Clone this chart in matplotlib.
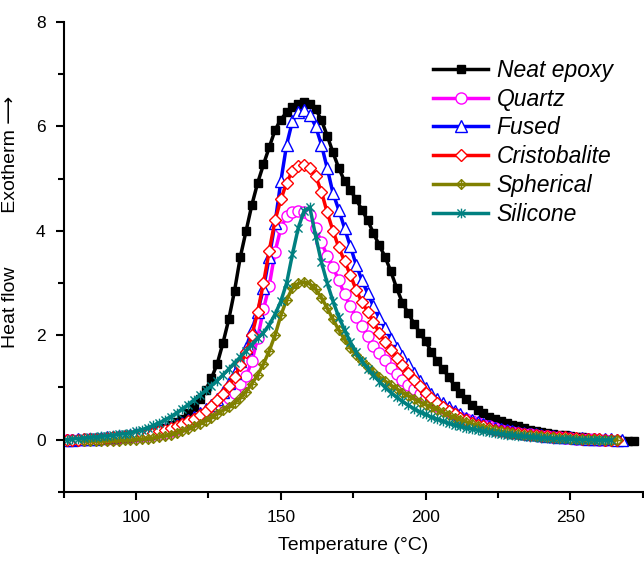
import matplotlib
matplotlib.use("Agg")
import matplotlib.pyplot as plt
import numpy as np
from matplotlib.path import Path
from matplotlib.ticker import MultipleLocator

plt.rcParams['font.family'] = ['Liberation Sans', 'DejaVu Sans']

# DSC heat flow curves, every 2 degC
t_neat = np.arange(80, 273, 2)
neat = [0.0, 0.0, 0.01, 0.01, 0.02, 0.02, 0.03, 0.04, 0.05, 0.06,
        0.08, 0.1, 0.12, 0.15, 0.18, 0.22, 0.27, 0.33, 0.4, 0.5,
        0.62, 0.78, 0.95, 1.17, 1.45, 1.85, 2.3, 2.85, 3.5, 4.0,
        4.5, 4.92, 5.27, 5.6, 5.93, 6.13, 6.27, 6.37, 6.43, 6.46,
        6.42, 6.33, 6.12, 5.82, 5.5, 5.2, 4.95, 4.78, 4.6, 4.4,
        4.2, 3.95, 3.72, 3.5, 3.22, 2.9, 2.62, 2.42, 2.22, 2.05,
        1.88, 1.68, 1.5, 1.35, 1.2, 1.03, 0.9, 0.78, 0.66, 0.57,
        0.5, 0.44, 0.39, 0.35, 0.31, 0.28, 0.25, 0.22, 0.19, 0.17,
        0.15, 0.13, 0.11, 0.09, 0.08, 0.06, 0.05, 0.04, 0.03, 0.02,
        0.01, 0.0, 0.0, -0.01, -0.02, -0.03, -0.03]

t_quartz = np.arange(76, 263, 2)
quartz = [0.0, 0.0, 0.0, 0.0, 0.01, 0.01, 0.01, 0.02, 0.02, 0.03,
          0.04, 0.05, 0.06, 0.07, 0.08, 0.1, 0.11, 0.13, 0.16, 0.2,
          0.25, 0.3, 0.35, 0.41, 0.47, 0.54, 0.62, 0.71, 0.79, 0.9,
          1.06, 1.22, 1.5, 1.95, 2.5, 2.95, 3.6, 4.05, 4.28, 4.35,
          4.37, 4.36, 4.3, 4.05, 3.78, 3.52, 3.3, 3.05, 2.78, 2.55,
          2.35, 2.18, 1.98, 1.8, 1.65, 1.52, 1.38, 1.25, 1.14, 1.05,
          0.96, 0.88, 0.8, 0.72, 0.65, 0.6, 0.54, 0.49, 0.44, 0.4,
          0.36, 0.32, 0.28, 0.25, 0.22, 0.19, 0.17, 0.15, 0.13, 0.11,
          0.1, 0.08, 0.07, 0.06, 0.05, 0.04, 0.03, 0.03, 0.02, 0.02,
          0.01, 0.01, 0.0, 0.0]

t_fused = np.arange(76, 269, 2)
fused = [0.0, 0.0, 0.01, 0.01, 0.02, 0.02, 0.03, 0.04, 0.05, 0.06,
         0.07, 0.08, 0.1, 0.11, 0.13, 0.15, 0.18, 0.21, 0.24, 0.28,
         0.32, 0.37, 0.43, 0.5, 0.58, 0.67, 0.78, 0.92, 1.08, 1.27,
         1.5, 1.76, 2.1, 2.45, 2.9, 3.5, 4.15, 4.95, 5.65, 6.1,
         6.28, 6.31, 6.22, 6.0, 5.65, 5.2, 4.72, 4.4, 4.05, 3.7,
         3.35, 3.05, 2.8, 2.55, 2.33, 2.13, 1.93, 1.75, 1.6, 1.45,
         1.27, 1.12, 0.98, 0.88, 0.78, 0.7, 0.62, 0.55, 0.48, 0.42,
         0.37, 0.33, 0.29, 0.26, 0.23, 0.2, 0.18, 0.16, 0.14, 0.12,
         0.11, 0.1, 0.08, 0.07, 0.06, 0.05, 0.05, 0.04, 0.03, 0.03,
         0.02, 0.02, 0.01, 0.01, 0.01, 0.0, 0.0]

t_cristo = np.arange(76, 267, 2)
cristo = [0.0, 0.0, 0.0, 0.01, 0.01, 0.02, 0.02, 0.03, 0.04, 0.05,
          0.06, 0.07, 0.08, 0.1, 0.11, 0.13, 0.16, 0.19, 0.22, 0.26,
          0.3, 0.35, 0.4, 0.47, 0.55, 0.64, 0.75, 0.88, 1.02, 1.2,
          1.42, 1.68, 2.0, 2.45, 3.0, 3.62, 4.2, 4.6, 4.92, 5.15,
          5.24, 5.26, 5.21, 5.05, 4.75, 4.35, 4.0, 3.68, 3.42, 3.15,
          2.87, 2.63, 2.45, 2.25, 2.05, 1.87, 1.72, 1.57, 1.42, 1.28,
          1.15, 1.02, 0.9, 0.8, 0.7, 0.62, 0.55, 0.48, 0.42, 0.37,
          0.32, 0.28, 0.25, 0.22, 0.19, 0.17, 0.15, 0.13, 0.12, 0.1,
          0.09, 0.08, 0.07, 0.06, 0.05, 0.04, 0.04, 0.03, 0.03, 0.02,
          0.02, 0.01, 0.01, 0.0, 0.0, 0.0]

t_spher = np.arange(82, 267, 2)
spher = [-0.03, -0.03, -0.03, -0.03, -0.02, -0.02, -0.02, -0.01, -0.01, 0.0,
         0.01, 0.02, 0.03, 0.05, 0.07, 0.09, 0.12, 0.16, 0.2, 0.25,
         0.3, 0.36, 0.42, 0.49, 0.56, 0.62, 0.7, 0.8, 0.92, 1.07,
         1.24, 1.45, 1.7, 2.0, 2.38, 2.68, 2.9, 2.99, 3.02, 2.98,
         2.88, 2.72, 2.52, 2.3, 2.1, 1.92, 1.76, 1.62, 1.5, 1.39,
         1.29, 1.2, 1.12, 1.04, 0.97, 0.9, 0.84, 0.78, 0.72, 0.67,
         0.62, 0.57, 0.52, 0.47, 0.42, 0.38, 0.34, 0.3, 0.26, 0.23,
         0.2, 0.18, 0.16, 0.14, 0.12, 0.1, 0.09, 0.08, 0.07, 0.06,
         0.05, 0.04, 0.03, 0.03, 0.02, 0.02, 0.01, 0.01, 0.01, 0.0,
         0.0, 0.0, 0.0]

t_silic = np.arange(76, 265, 2)
silic = [0.0, 0.01, 0.02, 0.03, 0.04, 0.05, 0.06, 0.07, 0.08, 0.1,
         0.11, 0.13, 0.16, 0.19, 0.23, 0.27, 0.32, 0.38, 0.44, 0.51,
         0.59, 0.67, 0.76, 0.85, 0.94, 1.03, 1.13, 1.24, 1.35, 1.47,
         1.58, 1.7, 1.82, 1.94, 2.05, 2.2, 2.4, 2.65, 3.0, 3.55,
         4.05, 4.38, 4.45, 3.9, 3.4, 3.0, 2.65, 2.35, 2.1, 1.87,
         1.67, 1.5, 1.36, 1.23, 1.11, 1.0, 0.9, 0.81, 0.73, 0.66,
         0.59, 0.53, 0.48, 0.43, 0.39, 0.35, 0.31, 0.28, 0.25, 0.22,
         0.2, 0.18, 0.16, 0.14, 0.12, 0.11, 0.09, 0.08, 0.07, 0.06,
         0.05, 0.04, 0.03, 0.03, 0.02, 0.02, 0.01, 0.01, 0.0, 0.0,
         0.0, -0.01, -0.01, -0.01, -0.01]

# diamond with a cross inside (Spherical)
M, L = Path.MOVETO, Path.LINETO
diamond_cross = Path([(0, 1), (1, 0), (0, -1), (-1, 0), (0, 1), (0, 1), (0, -1), (-1, 0), (1, 0)],
                     [M, L, L, L, L, M, L, M, L])
# x with a vertical bar (Silicone)
star_x = Path([(-1, -1), (1, 1), (-1, 1), (1, -1), (0, -1.2), (0, 1.2)],
              [M, L, M, L, M, L])

fig = plt.figure(figsize=(6.44, 5.62), dpi=100)
ax = fig.add_axes([0.099, 0.125, 0.899, 0.836])

lw = 2.5
ax.plot(t_neat, neat, color="black", lw=lw, marker="s", ms=5.5, label="Neat epoxy")
ax.plot(t_quartz, quartz, color="#ff00ff", lw=lw, marker="o", ms=8, mfc="white", mew=1, label="Quartz")
ax.plot(t_fused, fused, color="#0000ff", lw=lw, marker="^", ms=8, mfc="white", mew=1, label="Fused")
ax.plot(t_cristo, cristo, color="#ff0000", lw=lw, marker="D", ms=6.5, mfc="white", mew=1, label="Cristobalite")
ax.plot(t_spher, spher, color="#808000", lw=lw, marker=diamond_cross, ms=7, mfc="none", mew=1, label="Spherical")
ax.plot(t_silic, silic, color="#008080", lw=lw, marker=star_x, ms=7, mfc="none", mew=1, label="Silicone")

ax.set_xlim(75, 275)
ax.set_ylim(-1, 8)
ax.xaxis.set_major_locator(MultipleLocator(50))
ax.xaxis.set_minor_locator(MultipleLocator(25))
ax.yaxis.set_major_locator(MultipleLocator(2))
ax.yaxis.set_minor_locator(MultipleLocator(1))
ax.tick_params(which="major", direction="out", length=6, width=1.5, labelsize=12.5, pad=7)
ax.tick_params(which="minor", direction="out", length=4, width=1.5)
for s in ["top", "right"]:
    ax.spines[s].set_visible(False)
for s in ["left", "bottom"]:
    ax.spines[s].set_linewidth(1.5)

ax.set_xlabel("Temperature (\u00b0C)", fontsize=14, labelpad=9)
ax.set_ylabel("Heat flow          Exotherm \u27f6", fontsize=14)
ax.yaxis.set_label_coords(-0.078, 0.575)

ax.legend(loc="upper left", bbox_to_anchor=(0.603, 0.965), frameon=False,
          prop={"style": "italic", "size": 16.5}, handlelength=2.4,
          handletextpad=0.35, labelspacing=0.25)

fig.savefig("out.png", dpi=100)
